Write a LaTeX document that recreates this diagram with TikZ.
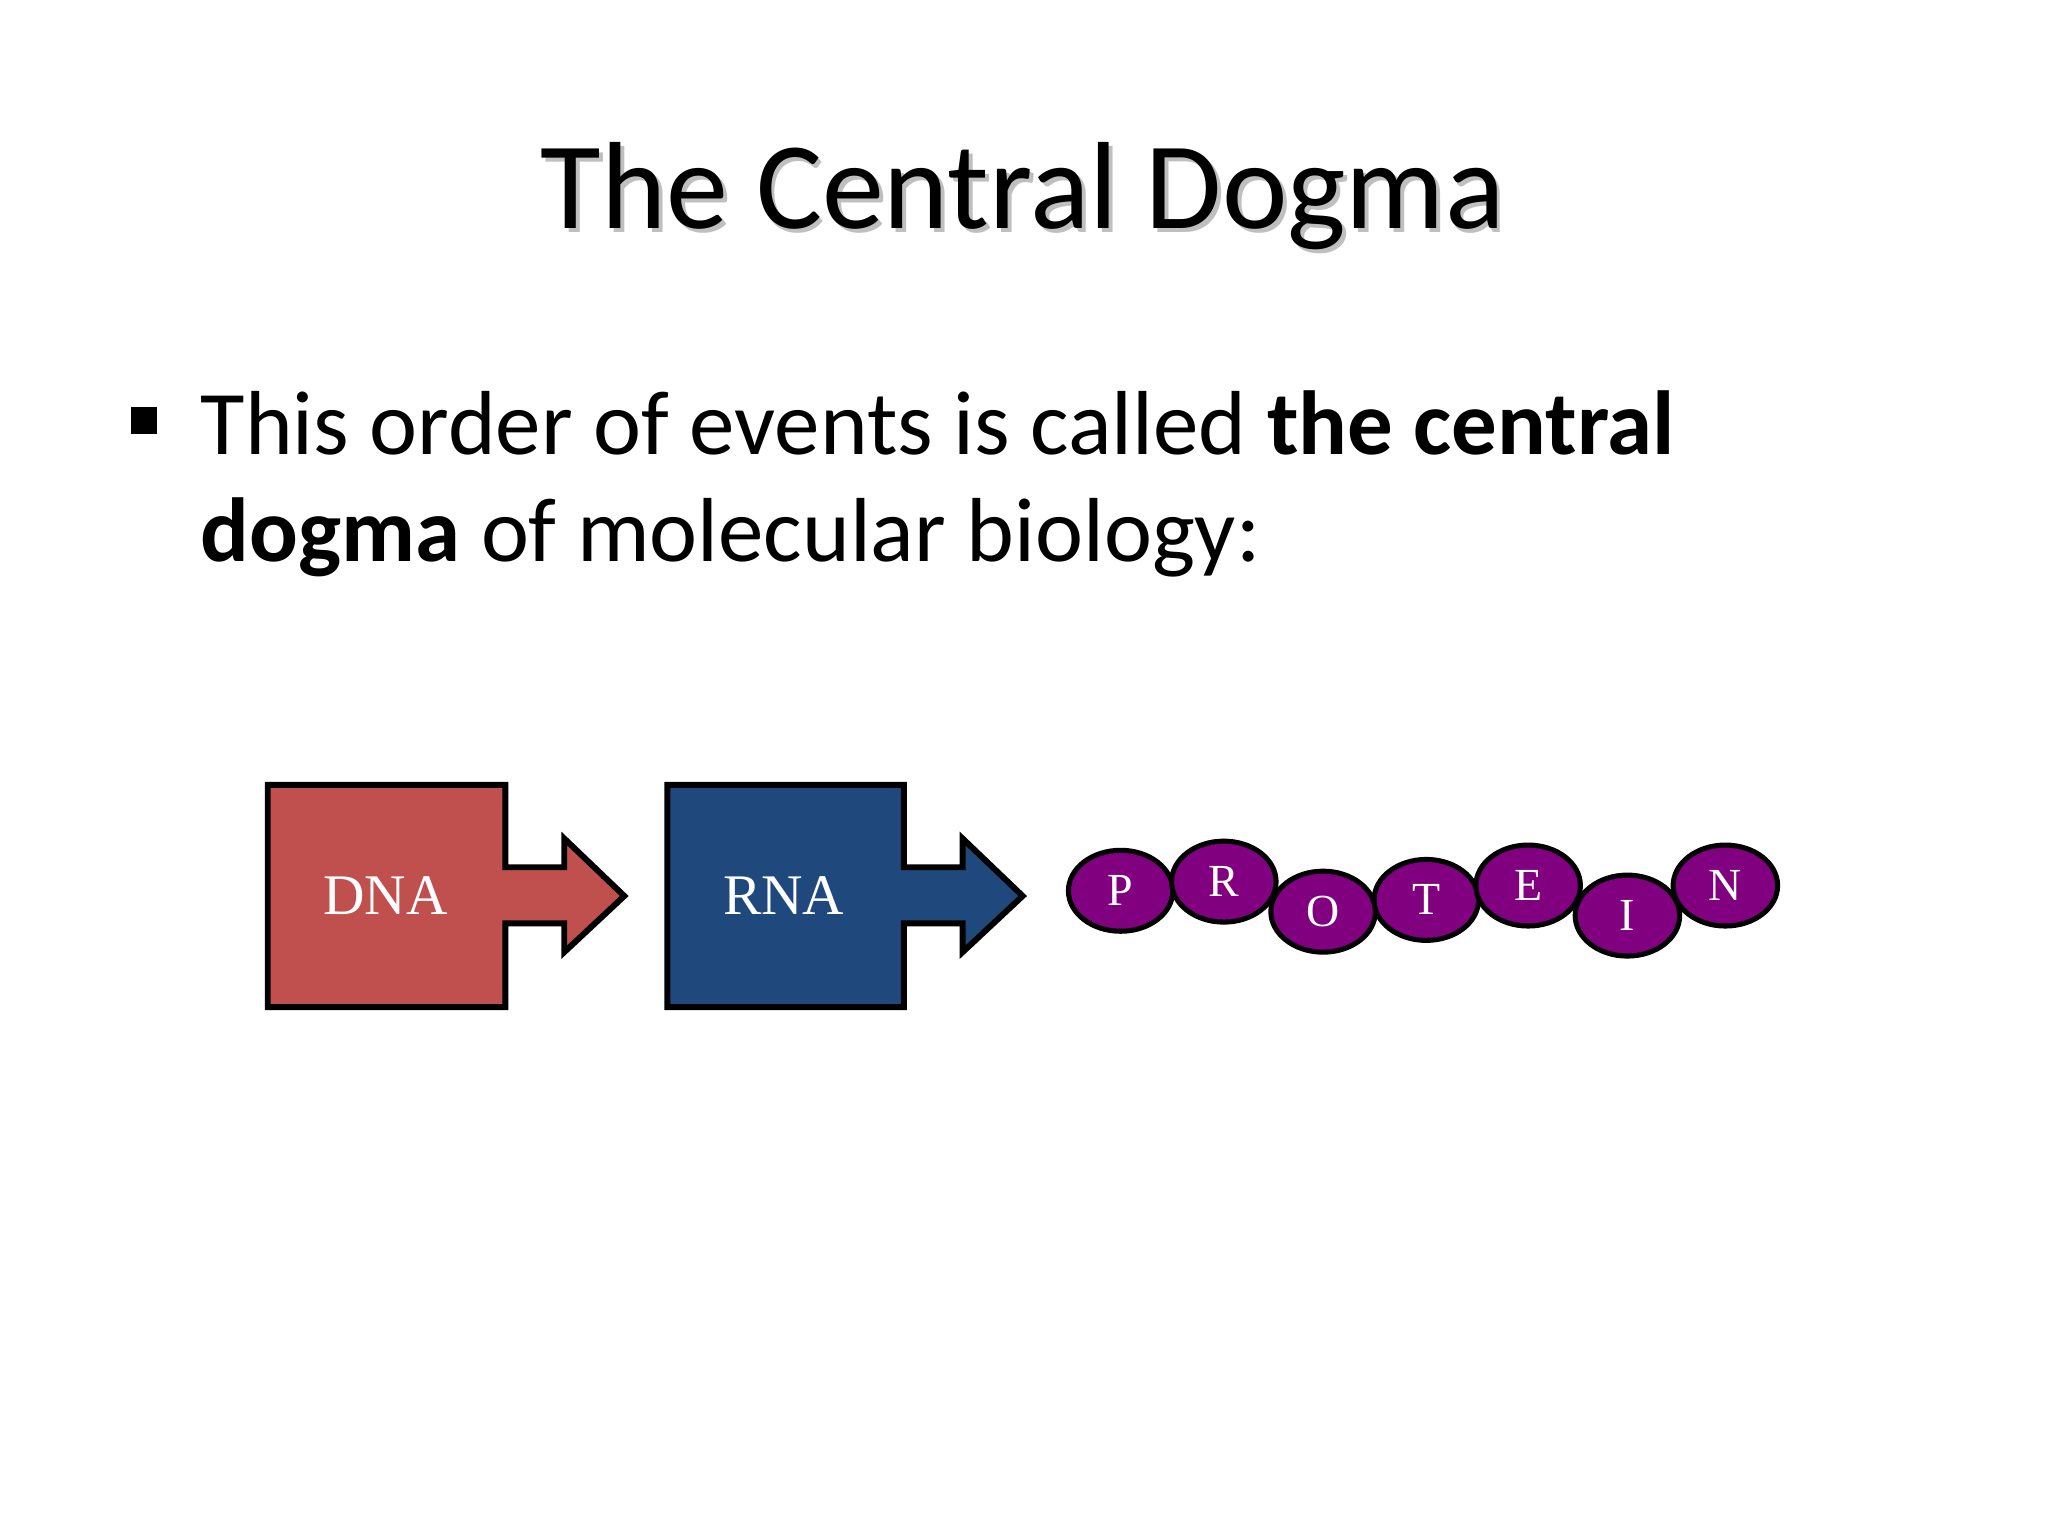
\documentclass[tikz,border=0pt]{standalone}
\usepackage{fontspec}
\setmainfont{Carlito}
\newfontfamily\lbl{Liberation Serif}
\begin{document}
\begin{tikzpicture}[x=0.01cm,y=-0.01cm,
  blk/.style={draw=black,line width=1.3pt},
  lt/.style={text=white,font=\lbl\fontsize{10pt}{10pt}\selectfont},
  ll/.style={text=white,font=\lbl\fontsize{12.5pt}{12.5pt}\selectfont}]
\useasboundingbox (0,0) rectangle (1568,1176);
\node[text=black!25,font=\fontsize{27pt}{27pt}\selectfont] (tsh) at (786,153) {The Central Dogma};
\node[font=\fontsize{27pt}{27pt}\selectfont] (title) at (783,150) {The Central Dogma};
\node[fill=black,minimum size=0.2cm,inner sep=0] (bul) at (110,322) {};
\node[anchor=base west,inner sep=0,font=\fontsize{19.8pt}{19.8pt}\selectfont] (l1) at (153,348) {This order of events is called \textbf{the central}};
\node[anchor=base west,inner sep=0,font=\fontsize{19.8pt}{19.8pt}\selectfont] (l2) at (153,430) {\textbf{dogma} of molecular biology:};
\filldraw[blk,fill={rgb,255:red,192;green,80;blue,77}] (205,601) -- (387,601) -- (387,664) -- (432,664) -- (432,642) -- (478,686) -- (432,729) -- (432,707) -- (387,707) -- (387,771) -- (205,771) -- cycle;
\node[ll] (dna) at (295,686) {DNA};
\filldraw[blk,fill={rgb,255:red,31;green,73;blue,125}] (511,601) -- (692,601) -- (692,664) -- (737,664) -- (737,642) -- (783,686) -- (737,729) -- (737,707) -- (692,707) -- (692,771) -- (511,771) -- cycle;
\node[ll] (rna) at (600,686) {RNA};
\foreach \n/\x/\y/\t in {p/858/682/P,r/937/675/R,o/1013/698/O,t/1092/689/T,e/1170/678/E,i/1246/701/I,n/1321/678/N}{
  \filldraw[draw=black,line width=1.1pt,fill={rgb,255:red,128;green,0;blue,128}] (\x,\y) ellipse [x radius=40,y radius=31];
  \node[lt] (\n) at (\x,\y) {\t};
}
\end{tikzpicture}
\end{document}
